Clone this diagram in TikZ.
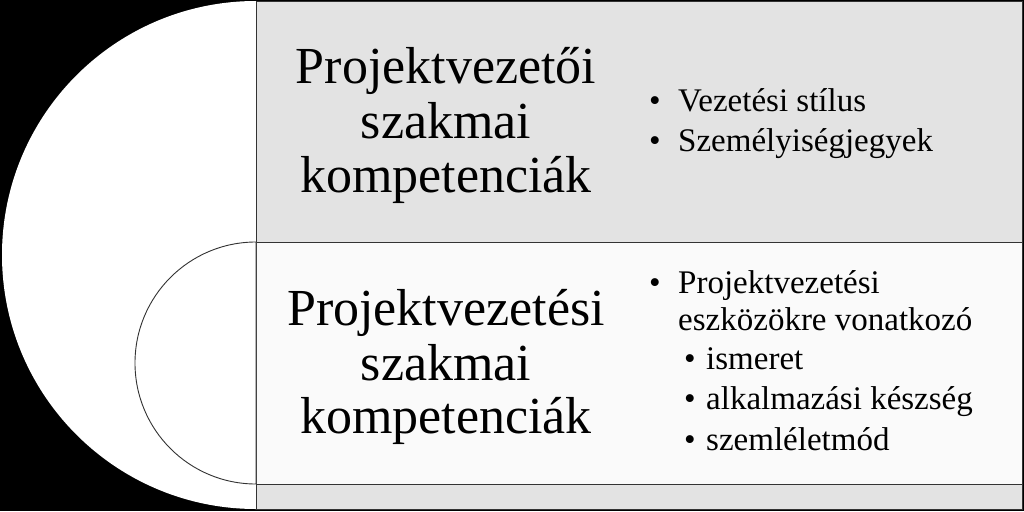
\documentclass[tikz,border=0pt]{standalone}
\usepackage{fontspec}
\setmainfont{Liberation Serif}
\begin{document}
\begin{tikzpicture}[x=1pt,y=-1pt,
  edge/.style={draw=black!80,line width=0.9pt},
  title/.style={anchor=base,inner sep=0pt,font=\fontsize{52}{52}\selectfont},
  item/.style={anchor=base west,inner sep=0pt,font=\fontsize{33}{33}\selectfont},
  dot/.style={anchor=base,inner sep=0pt,font=\fontsize{33}{33}\selectfont}]
\fill[black] (0,0) rectangle (1024,511);
\useasboundingbox (0,0) rectangle (1024,511);
% big half disc
\fill[white] (256,1) arc[start angle=-90,end angle=-270,radius=254] -- cycle;
% rectangles
\fill[black!11,edge] (256,1) rectangle (1022,242);
\fill[black!2,edge] (256,242) rectangle (1022,484);
\fill[black!11,edge] (256,484) rectangle (1022,509);
% small half disc
\filldraw[fill=white,edge] (256,242) arc[start angle=-90,end angle=-270,radius=121] -- cycle;
% titles
\node[title] (t1) at (446,83.5) {Projektvezetői};
\node[title] (t2) at (446,138) {szakmai};
\node[title] (t3) at (446,192) {kompetenciák};
\node[title] (b1) at (446,325) {Projektvezetési};
\node[title] (b2) at (446,380) {szakmai};
\node[title] (b3) at (446,433) {kompetenciák};
% top bullets
\node[dot] (d1) at (655,111) {•};
\node[item] (i1) at (678,111) {Vezetési stílus};
\node[dot] (d2) at (655,151) {•};
\node[item] (i2) at (678,151) {Személyiségjegyek};
% bottom bullets
\node[dot] (d3) at (655,293) {•};
\node[item] (i3) at (678,293) {Projektvezetési};
\node[item] (i4) at (678,330) {eszközökre vonatkozó};
\node[dot] (d5) at (690,369) {•};
\node[item] (i5) at (706,369) {ismeret};
\node[dot] (d6) at (690,409) {•};
\node[item] (i6) at (706,409) {alkalmazási készség};
\node[dot] (d7) at (690,450) {•};
\node[item] (i7) at (706,450) {szemléletmód};
\end{tikzpicture}
\end{document}
